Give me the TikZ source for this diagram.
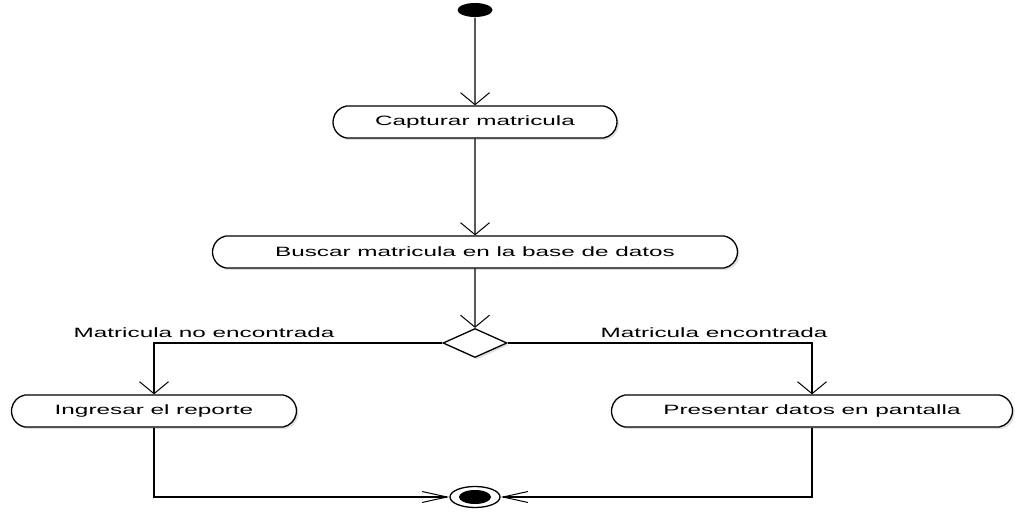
\documentclass[tikz,border=0pt]{standalone}
\usepackage{fontspec}
\setmainfont{Liberation Sans}
\usetikzlibrary{shapes}
\usetikzlibrary{positioning}
\usetikzlibrary{arrows.meta,shadows}

\newcommand{\ancho}[1]{\scalebox{1.8}[1]{#1}}

\tikzset{
  actividad/.style={draw, rounded rectangle, rounded rectangle arc length=160,
    minimum height=32pt, inner sep=0pt, font=\fontsize{13.5}{16}\selectfont,
    fill=white, drop shadow={opacity=0.25, shadow xshift=2pt, shadow yshift=-2pt}},
  decision/.style={draw, diamond, minimum width=64pt, minimum height=29pt,
    inner sep=0pt, fill=white, drop shadow={opacity=0.25, shadow xshift=2pt, shadow yshift=-2pt}},
  inicio/.style={ellipse, fill=black, minimum width=35pt, minimum height=14pt, inner sep=0pt},
  fin/.style={draw, ellipse, fill=white, minimum width=50pt, minimum height=21pt, inner sep=0pt,
    path picture={\fill[black] (path picture bounding box.center) ellipse (16pt and 7pt);}},
  etiqueta/.style={font=\fontsize{13.5}{16}\selectfont, inner sep=0pt},
  flechav/.style={-{Straight Barb[length=12pt,width=29pt,line width=1pt]}},
  flechah/.style={-{Straight Barb[length=25pt,width=11pt,line width=1pt]}},
}

\begin{document}
\begin{tikzpicture}[x=1pt, y=-1pt, line width=1.3pt]
\useasboundingbox (0,0) rectangle (1015,518);

% nodos
\node[inicio] (ini) at (475,10) {};
\node[actividad, minimum width=284pt] (cap) at (475,122) {\ancho{Capturar matricula}};
\node[actividad, minimum width=525pt] (bus) at (475,252) {\ancho{Buscar matricula en la base de datos}};
\node[decision] (dec) at (475,343) {};
\node[actividad, minimum width=285pt] (ing) at (154,411) {\ancho{Ingresar el reporte}};
\node[actividad, minimum width=401pt] (pre) at (812,411) {\ancho{Presentar datos en pantalla}};
\node[fin] (fin) at (475,497) {};

% etiquetas
\node[etiqueta] (lno) at (204,333) {\ancho{Matricula no encontrada}};
\node[etiqueta] (lsi) at (714,333) {\ancho{Matricula encontrada}};

% flujo
\draw[flechav] (ini) -- (cap);
\draw[flechav] (cap) -- (bus);
\draw[flechav] (bus) -- (dec);
\draw[flechav] (dec.west) -| (ing);
\draw[flechav] (dec.east) -| (pre);
\draw[flechah] (ing) |- (fin);
\draw[flechah] (pre) |- (fin);
\end{tikzpicture}
\end{document}
